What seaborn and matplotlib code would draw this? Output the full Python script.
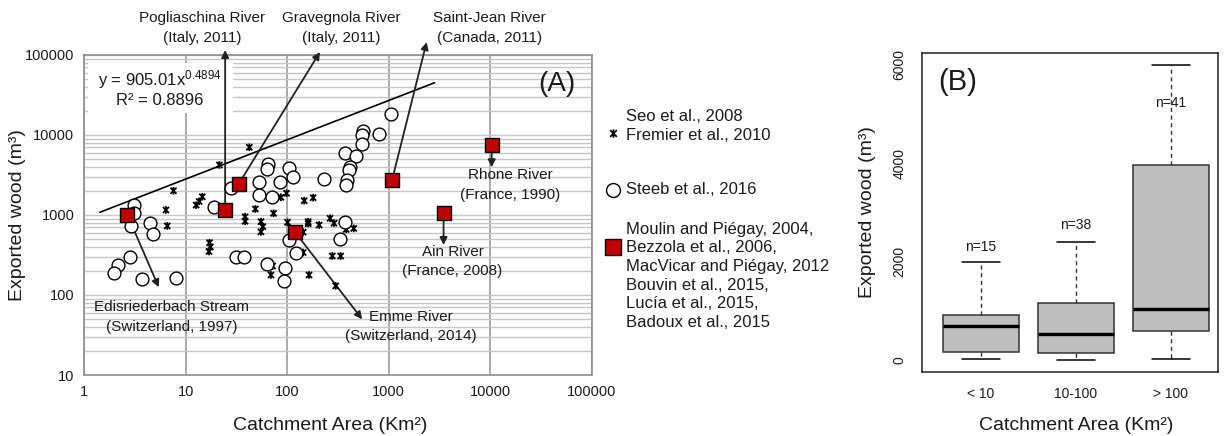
import matplotlib
matplotlib.use("Agg")
import matplotlib.pyplot as plt
from matplotlib.lines import Line2D
from matplotlib.patches import Rectangle
from matplotlib.path import Path
from matplotlib.ticker import FixedLocator, FixedFormatter, NullFormatter, LogLocator
import numpy as np
import pandas as pd
import seaborn as sns

# ---- panel A : exported wood vs catchment area (log-log) ----
# Seo et al. 2008 / Fremier et al. 2010
seo_area = [42.4, 21.5, 7.6, 6.4, 6.6, 12.7, 13.6, 14.6, 38.5, 38.5, 48.6, 17.2, 17.5, 17.0,
            55.2, 57.6, 55.2, 73.4, 86.7, 98.5, 147, 180, 100.7, 161, 161, 206, 264, 289,
            381, 452, 143.5, 143.5, 278, 336, 71.8, 69.2, 164, 300]
seo_wood = [7020, 4220, 2010, 1155, 730, 1330, 1480, 1690, 950, 835, 1190, 450, 400, 350,
            825, 715, 615, 1050, 1665, 1870, 1510, 1645, 810, 825, 780, 750, 910, 790,
            660, 680, 610, 340, 307, 307, 230, 178, 178, 130]

# Steeb et al. 2016
steeb_area = [3.09, 3.09, 2.93, 4.44, 4.78, 2.83, 2.17, 1.97, 3.73, 8.1, 19.2, 28.1, 52.3, 52.3,
              31.4, 37.9, 1054, 556, 547, 798, 540, 370, 478, 411, 405, 390, 381, 232, 105,
              115, 65.1, 63, 84.8, 70.8, 368, 331, 105, 122, 63.2, 95.6, 93.5]
steeb_wood = [1330, 1050, 720, 800, 585, 296, 237, 187, 158, 165, 1270, 2160, 2610, 1800,
              301, 301, 18300, 11300, 10000, 10200, 7650, 6010, 5510, 3950, 3630, 2740, 2370, 2845, 3835,
              2960, 4340, 3760, 2560, 1665, 825, 497, 487, 338, 244, 216, 151]

# single events (red squares)
event_names = ['Edisriederbach', 'Pogliaschina', 'Gravegnola', 'Emme', 'Saint-Jean', 'Ain', 'Rhone']
event_area = [2.68, 24.5, 33.3, 120, 1077, 3460, 10300]
event_wood = [1000, 1155, 2440, 608, 2740, 1050, 7500]

# power-law envelope line (end points)
trend_area = [1.43, 2820]
trend_wood = [1080, 45000]

# ---- panel B : boxplots by catchment class ----
area_classes = ['< 10', '10-100', '> 100']
box_min = [15, 0, 15]
box_q1 = [165, 135, 590]
box_med = [685, 530, 1045]
box_q3 = [915, 1155, 3975]
box_max = [1990, 2390, 6000]
box_n = [15, 38, 41]
n_label_y = [2300, 2750, 5230]

sns.set_style('white')
plt.rcParams['font.family'] = ['Liberation Sans', 'DejaVu Sans']
plt.rcParams['mathtext.default'] = 'regular'
TXT = '#1a1a1a'

# Excel-like "star" marker: an x crossed by a vertical bar
star = Path([(-0.8, -0.8), (0.8, 0.8), (-0.8, 0.8), (0.8, -0.8), (0, -1), (0, 1)],
            [Path.MOVETO, Path.LINETO, Path.MOVETO, Path.LINETO, Path.MOVETO, Path.LINETO])

W, H = 1225, 436
fig = plt.figure(figsize=(W / 100, H / 100), dpi=100)


def rect(x0, y0, x1, y1):
    return [x0 / W, 1 - y1 / H, (x1 - x0) / W, (y1 - y0) / H]


# ================= panel A =================
ax1 = fig.add_axes(rect(84, 55, 592, 375))
ax1.set_xscale('log')
ax1.set_yscale('log')
ax1.set_xlim(1, 1e5)
ax1.set_ylim(10, 1e5)
ax1.set_axisbelow(True)

decades = [1, 10, 100, 1000, 10000, 100000]
ax1.xaxis.set_major_locator(FixedLocator(decades))
ax1.xaxis.set_major_formatter(FixedFormatter([str(d) for d in decades]))
ax1.xaxis.set_minor_locator(FixedLocator([]))
ax1.yaxis.set_major_locator(FixedLocator(decades[1:]))
ax1.yaxis.set_major_formatter(FixedFormatter([str(d) for d in decades[1:]]))
ax1.yaxis.set_minor_locator(LogLocator(base=10, subs=range(2, 10), numticks=20))
ax1.yaxis.set_minor_formatter(NullFormatter())

ax1.grid(True, which='major', axis='x', color='#a3a3a3', lw=1.3)
ax1.grid(True, which='both', axis='y', color='#c6c6c6', lw=1.0)
ax1.tick_params(axis='both', which='major', length=5, width=1, color='#8c8c8c',
                labelsize=10.5, labelcolor=TXT, pad=2)
ax1.tick_params(axis='y', which='minor', length=0)
for s in ax1.spines.values():
    s.set_color('#8c8c8c')
    s.set_linewidth(1.2)

sns.lineplot(x=trend_area, y=trend_wood, color='black', lw=1.2, estimator=None,
             ax=ax1, zorder=3)
sns.scatterplot(x=seo_area, y=seo_wood, marker=star, s=30, facecolor='none',
                edgecolor='black', linewidth=1.3, ax=ax1, zorder=4)
sns.scatterplot(x=steeb_area, y=steeb_wood, marker='o', s=85, facecolor='white',
                edgecolor='black', linewidth=1.0, ax=ax1, zorder=4)
sns.scatterplot(x=event_area, y=event_wood, marker='s', s=90, facecolor='#c00000',
                edgecolor='black', linewidth=1.0, ax=ax1, zorder=5)

# equation box
ax1.add_patch(Rectangle((0.008, 0.818), 0.285, 0.158, transform=ax1.transAxes,
                        facecolor='white', edgecolor='none', zorder=2))
ax1.text(0.1496, 0.922, r'y = 905.01x$^{0.4894}$', transform=ax1.transAxes, ha='center',
         va='center', fontsize=12, color=TXT, zorder=2.5)
ax1.text(0.1496, 0.859, 'R² = 0.8896', transform=ax1.transAxes, ha='center',
         va='center', fontsize=12, color=TXT, zorder=2.5)
ax1.text(0.93, 0.909, '(A)', transform=ax1.transAxes, ha='center', va='center',
         fontsize=20, color=TXT)

# arrows from each event to its label
arrow_tips = {
    'Edisriederbach': (5.44, 125),
    'Pogliaschina': (24.5, 115500),
    'Gravegnola': (210, 109000),
    'Emme': (547, 49.7),
    'Saint-Jean': (2358, 145000),
    'Ain': (3460, 422),
    'Rhone': (10300, 3950),
}
for name, xa, ya in zip(event_names, event_area, event_wood):
    ax1.annotate('', xy=arrow_tips[name], xytext=(xa, ya), annotation_clip=False,
                 arrowprops=dict(arrowstyle='-|>', color='#222222', lw=1.3,
                                 mutation_scale=11, shrinkA=0, shrinkB=0), zorder=3)

labels = [
    (('Pogliaschina River', '(Italy, 2011)'), (14.68, 290000)),
    (('Gravegnola River', '(Italy, 2011)'), (338, 290000)),
    (('Saint-Jean River', '(Canada, 2011)'), (9780, 290000)),
    (('Edisriederbach Stream', '(Switzerland, 1997)'), (7.29, 70.8)),
    (('Emme River', '(Switzerland, 2014)'), (1643, 53.6)),
    (('Rhone River', '(France, 1990)'), (15700, 3162)),
    (('Ain River', '(France, 2008)'), (4240, 348)),
]
for lines, xy in labels:
    for i, line in enumerate(lines):
        ax1.annotate(line, xy=xy, xytext=(0, -14.2 * i), textcoords='offset points',
                     ha='center', va='center', fontsize=11, color=TXT,
                     annotation_clip=False, zorder=6)

ax1.set_xlabel('Catchment Area (Km²)', fontsize=14, color=TXT)
ax1.set_ylabel('Exported wood (m³)', fontsize=14, color=TXT)
ax1.xaxis.set_label_coords((330 - 84) / 508, (375 - 425) / 320)
ax1.xaxis.label.set_va('center')
ax1.yaxis.set_label_coords((18 - 84) / 508, 0.5)
ax1.yaxis.label.set_va('center')

# ---- legend (drawn by hand next to panel A) ----
def fpt(x, y):
    return x / W, 1 - y / H

leg_items = [
    (dict(marker=star, markersize=6, markerfacecolor='none', markeredgecolor='black', mew=1.3),
     (613, 133), ['Seo et al., 2008', 'Fremier et al., 2010'], 116.7),
    (dict(marker='o', markersize=10, markerfacecolor='white', markeredgecolor='black', mew=1.0),
     (613, 190), ['Steeb et al., 2016'], 190),
    (dict(marker='s', markersize=11, markerfacecolor='#c00000', markeredgecolor='black', mew=1.0),
     (613, 247), ['Moulin and Piégay, 2004,', 'Bezzola et al., 2006,',
                  'MacVicar and Piégay, 2012', 'Bouvin et al., 2015,',
                  'Lucía et al., 2015,', 'Badoux et al., 2015'], 229.3),
]
for style, (mx, my), lines, y0 in leg_items:
    fig.add_artist(Line2D([mx / W], [1 - my / H], transform=fig.transFigure,
                          linestyle='none', **style))
    for i, line in enumerate(lines):
        fig.text(*fpt(626, y0 + 18.6 * i), line, ha='left', va='center',
                 fontsize=12, color=TXT)

# ================= panel B =================
ax2 = fig.add_axes(rect(922, 53, 1218, 372))
box_df = pd.DataFrame({
    'area_class': np.repeat(area_classes, 5),
    'wood': np.column_stack([box_min, box_q1, box_med, box_q3, box_max]).ravel(),
})
sns.boxplot(data=box_df, x='area_class', y='wood', order=area_classes, whis=(0, 100),
            width=0.8, color='#bebebe', saturation=1, linecolor='#333333', linewidth=1.1,
            showfliers=False,
            medianprops=dict(color='black', linewidth=2.4),
            whiskerprops=dict(linestyle=(0, (3, 2.5)), linewidth=1.0),
            capprops=dict(color='black'), ax=ax2)
for i, (n, y) in enumerate(zip(box_n, n_label_y)):
    ax2.text(i, y, f'n={n}', ha='center', va='center', fontsize=10, color=TXT)

ax2.set_xlim(-0.62, 2.5)
ax2.set_ylim(-244, 6244)
ax2.set_yticks(range(0, 7000, 1000))
ax2.set_yticklabels(['0', '', '2000', '', '4000', '', '6000'], rotation=90, va='center')
ax2.tick_params(axis='both', length=7, width=1, color='#333333', labelsize=10,
                labelcolor=TXT, pad=4)
for s in ax2.spines.values():
    s.set_color('#222222')
    s.set_linewidth(1.1)
ax2.text(0.12, 0.91, '(B)', transform=ax2.transAxes, ha='center', va='center',
         fontsize=21, color=TXT)
ax2.set_xlabel('Catchment Area (Km²)', fontsize=14, color=TXT)
ax2.set_ylabel('Exported wood (m³)', fontsize=14, color=TXT)
ax2.xaxis.set_label_coords((1076 - 922) / 296, (372 - 425) / 319)
ax2.xaxis.label.set_va('center')
ax2.yaxis.set_label_coords((867 - 922) / 296, 0.5)
ax2.yaxis.label.set_va('center')

fig.savefig('out.png', dpi=100)
